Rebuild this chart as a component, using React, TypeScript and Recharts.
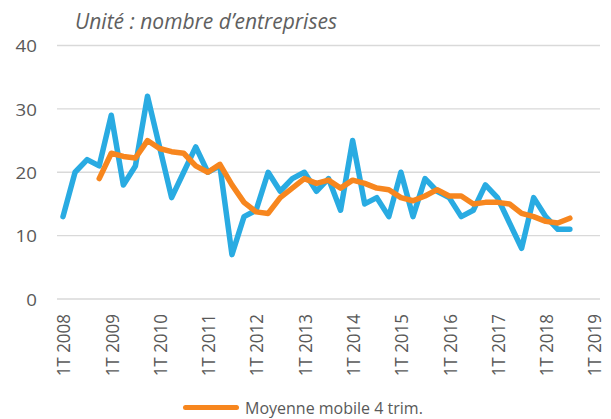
import React from "react";
import { LineChart, Line, XAxis, YAxis, CartesianGrid } from "recharts";

const categories = [
  "1T 2008", "2T 2008", "3T 2008", "4T 2008",
  "1T 2009", "2T 2009", "3T 2009", "4T 2009",
  "1T 2010", "2T 2010", "3T 2010", "4T 2010",
  "1T 2011", "2T 2011", "3T 2011", "4T 2011",
  "1T 2012", "2T 2012", "3T 2012", "4T 2012",
  "1T 2013", "2T 2013", "3T 2013", "4T 2013",
  "1T 2014", "2T 2014", "3T 2014", "4T 2014",
  "1T 2015", "2T 2015", "3T 2015", "4T 2015",
  "1T 2016", "2T 2016", "3T 2016", "4T 2016",
  "1T 2017", "2T 2017", "3T 2017", "4T 2017",
  "1T 2018", "2T 2018", "3T 2018", "4T 2018",
  "1T 2019",
];

const entreprises = [
  13, 20, 22, 21, 29, 18, 21, 32, 24, 16, 20, 24,
  20, 21, 7, 13, 14, 20, 17, 19, 20, 17, 19, 14,
  25, 15, 16, 13, 20, 13, 19, 17, 16, 13, 14, 18,
  16, 12, 8, 16, 13, 11, 11, null, null,
];

const moyenneMobile = [
  null, null, null, 19, 23, 22.5, 22.25, 25, 23.75, 23.25, 23, 21,
  20, 21.25, 18, 15.25, 13.75, 13.5, 16, 17.5, 19, 18.25, 18.75, 17.5,
  18.75, 18.25, 17.5, 17.25, 16, 15.5, 16.25, 17.25, 16.25, 16.25, 15, 15.25,
  15.25, 15, 13.5, 13, 12.25, 12, 12.75, null, null,
];

const yTicks = [0, 10, 20, 30, 40];

const titleText = "Unité : nombre d’entreprises";
const legendText = "Moyenne mobile 4 trim.";

const data = categories.map((c, i) => ({
  cat: c,
  brut: entreprises[i],
  mm: moyenneMobile[i],
}));

const FONT = "'Open Sans', 'Noto Sans', sans-serif";
const GREY = "#595959";
const BLUE = "#29ABE2";
const ORANGE = "#F7861E";

const XTick = (props: any) => {
  const { x, payload } = props;
  const y = 314;
  return (
    <text
      x={0}
      y={0}
      transform={`translate(${x},${y}) rotate(-90) scale(1,1.1)`}
      textAnchor="end"
      dominantBaseline="central"
      fill={GREY}
      fontSize={17}
      fontFamily={FONT}
    >
      {payload.value}
    </text>
  );
};

const YTick = (props: any) => {
  const { y, payload } = props;
  return (
    <text
      x={0}
      y={0}
      transform={`translate(37,${y}) scale(1.1,1)`}
      textAnchor="end"
      dominantBaseline="central"
      fill={GREY}
      fontSize={17}
      fontFamily={FONT}
    >
      {payload.value}
    </text>
  );
};

export default function App() {
  return (
    <div
      style={{
        position: "absolute",
        left: 0,
        top: 0,
        width: 611,
        height: 419,
        overflow: "hidden",
        background: "#ffffff",
        fontFamily: FONT,
      }}
    >
      <LineChart
        width={611}
        height={419}
        data={data}
        margin={{ top: 45.5, right: 11, bottom: 0, left: 0 }}
      >
        <CartesianGrid
          vertical={false}
          stroke="#D9D9D9"
          strokeWidth={1.4}
        />
        <XAxis
          dataKey="cat"
          interval={3}
          height={120}
          axisLine={false}
          tickLine={false}
          tickSize={0}
          padding={{ left: 6, right: 6 }}
          tick={<XTick />}
        />
        <YAxis
          domain={[0, 40]}
          ticks={yTicks}
          width={57}
          axisLine={false}
          tickLine={false}
          tickSize={0}
          tick={<YTick />}
        />
        <Line
          type="linear"
          dataKey="brut"
          stroke={BLUE}
          strokeWidth={5.5}
          strokeLinecap="round"
          strokeLinejoin="round"
          dot={false}
          activeDot={false}
          legendType="none"
          isAnimationActive={false}
        />
        <Line
          type="linear"
          dataKey="mm"
          stroke={ORANGE}
          strokeWidth={5.5}
          strokeLinecap="round"
          strokeLinejoin="round"
          dot={false}
          activeDot={false}
          connectNulls={false}
          isAnimationActive={false}
        />
      </LineChart>
      <div
        style={{
          position: "absolute",
          left: 75,
          top: 7,
          fontSize: 21,
          lineHeight: "28px",
          fontStyle: "italic",
          color: "#606060",
          whiteSpace: "nowrap",
        }}
      >
        {titleText}
      </div>
      <div
        style={{
          position: "absolute",
          left: 183,
          top: 396,
          height: 23,
          display: "flex",
          alignItems: "center",
          whiteSpace: "nowrap",
        }}
      >
        <span
          style={{
            display: "inline-block",
            width: 56,
            height: 5,
            borderRadius: 3,
            background: ORANGE,
          }}
        />
        <span
          style={{
            marginLeft: 6,
            fontSize: 16,
            color: GREY,
            lineHeight: "22px",
          }}
        >
          {legendText}
        </span>
      </div>
    </div>
  );
}
